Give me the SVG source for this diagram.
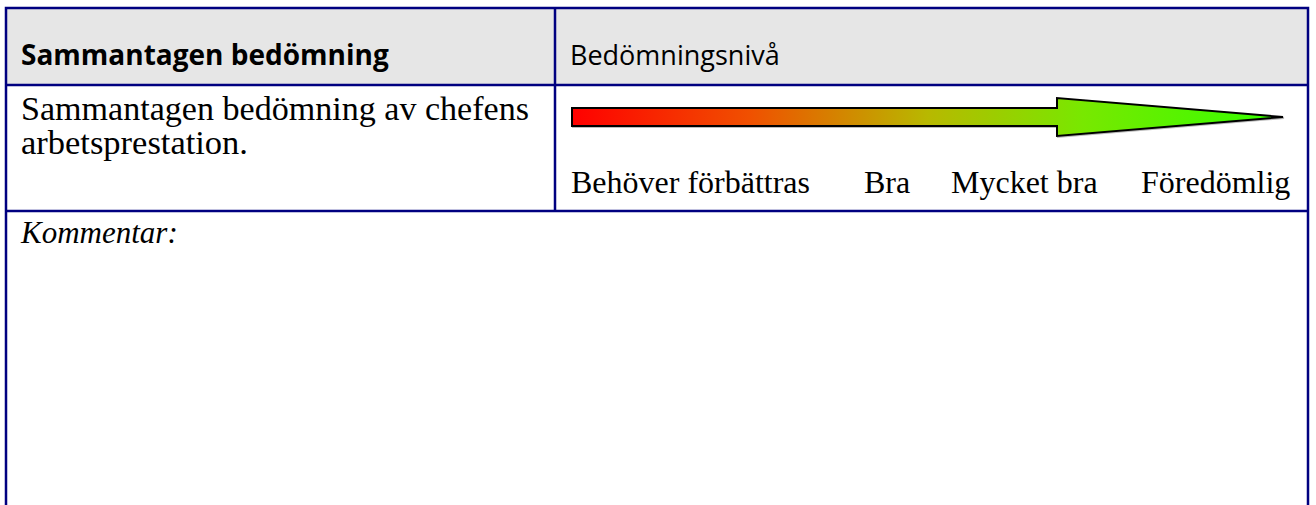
<svg xmlns="http://www.w3.org/2000/svg" width="1316" height="505" viewBox="0 0 1316 505">
<style>
.grid{stroke:#000080;stroke-width:2.5;fill:none}
.hdr{font-family:"Open Sans","Noto Sans","DejaVu Sans",sans-serif;font-weight:bold;font-size:28px;fill:#000}
.sans{font-family:"Open Sans","Noto Sans","DejaVu Sans",sans-serif;font-size:27px;fill:#000}
.ser{font-family:"Liberation Serif","Times New Roman",serif;font-size:32px;fill:#000}
.desc{font-family:"Liberation Serif","Times New Roman",serif;font-size:33px;fill:#000}
.it{font-family:"Liberation Serif","Times New Roman",serif;font-style:italic;font-size:31px;fill:#000}
</style>
<defs>
<linearGradient id="grad" gradientUnits="userSpaceOnUse" x1="572" y1="0" x2="1282" y2="0">
<stop offset="0" stop-color="#ff0000"/>
<stop offset="0.25" stop-color="#f05000"/>
<stop offset="0.5" stop-color="#b8b800"/>
<stop offset="0.72" stop-color="#78e800"/>
<stop offset="1" stop-color="#33ff00"/>
</linearGradient>
</defs>
<rect width="1316" height="505" fill="#ffffff"/>
<g id="header">
<rect x="6" y="8" width="1302" height="77" fill="#e6e6e6"/>
<text class="hdr" x="21" y="65">Sammantagen bedömning</text>
<text class="sans" x="570" y="65">Bedömningsnivå</text>
</g>
<g id="row-description">
<text class="desc" x="21" y="120" textLength="508" lengthAdjust="spacingAndGlyphs">Sammantagen bedömning av chefens</text>
<text class="desc" x="21" y="154" textLength="227" lengthAdjust="spacingAndGlyphs">arbetsprestation.</text>
</g>
<g id="scale">
<polygon points="572,108 1057,108 1057,98 1283,117 1057,136 1057,126 572,126" fill="#bbbbbb" stroke="#bbbbbb" stroke-width="2" transform="translate(1,1)"/>
<polygon points="572,108 1057,108 1057,98 1283,117 1057,136 1057,126 572,126" fill="url(#grad)" stroke="#000" stroke-width="2"/>
<text class="ser" x="571" y="193">Behöver förbättras</text>
<text class="ser" x="864" y="193">Bra</text>
<text class="ser" x="951" y="193">Mycket bra</text>
<text class="ser" x="1141" y="193">Föredömlig</text>
</g>
<g id="comment">
<text class="it" x="21" y="243">Kommentar:</text>
</g>
<g id="connectors">
<path class="grid" d="M6,505 V8 H1308 V505"/>
<path class="grid" d="M6,85 H1308 M6,211 H1308 M555,8 V211"/>
</g>
</svg>
